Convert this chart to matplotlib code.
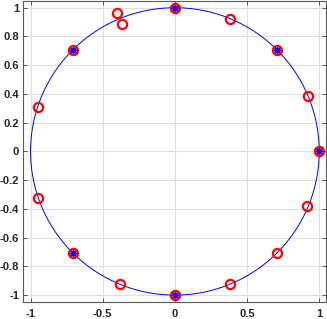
import numpy as np
import matplotlib
matplotlib.use("Agg")
import matplotlib.pyplot as plt

plt.rcParams["font.family"] = ["Liberation Sans", "DejaVu Sans"]
plt.rcParams["axes.unicode_minus"] = False

# red circles
red_x = [1.0, 0.92, 0.707, 0.383, 0.0, -0.404, -0.365, -0.707, -0.948,
         -0.946, -0.707, -0.38, 0.0, 0.383, 0.707, 0.918]
red_y = [0.0, 0.383, 0.707, 0.924, 1.0, 0.962, 0.884, 0.707, 0.311,
         -0.322, -0.707, -0.922, -1.0, -0.922, -0.707, -0.381]

# blue asterisks
star_x = [1.0, 0.707, 0.0, -0.707, -0.707, 0.0]
star_y = [0.0, 0.707, 1.0, 0.707, -0.707, -1.0]

xticks = [-1, -0.5, 0, 0.5, 1]
yticks = [-1, -0.8, -0.6, -0.4, -0.2, 0, 0.2, 0.4, 0.6, 0.8, 1]

# unit circle
t = np.linspace(0, 2 * np.pi, 400)

fig = plt.figure(figsize=(3.27, 3.19), dpi=100)
ax = fig.add_axes([0.0713, 0.0524, 0.927, 0.946])

ax.plot(np.cos(t), np.sin(t), color="#0000ff", lw=0.7, zorder=2)
ax.plot(star_x, star_y, ls="none", marker=(8, 2, 0), ms=5.5, mec="#0000ff",
        mew=1.0, zorder=3)
ax.plot(red_x, red_y, ls="none", marker="o", ms=6.6, mfc="none", mec="#ff0000",
        mew=1.6, zorder=4)

ax.set_xlim(-1.05, 1.05)
ax.set_ylim(-1.05, 1.05)
ax.set_xticks(xticks)
ax.set_xticklabels(["-1", "-0.5", "0", "0.5", "1"])
ax.set_yticks(yticks)
ax.set_yticklabels(["-1", "-0.8", "-0.6", "-0.4", "-0.2", "0", "0.2", "0.4",
                    "0.6", "0.8", "1"])

ax.grid(True, color="#e0e0e0", lw=0.8)
ax.set_axisbelow(True)
ax.tick_params(direction="in", length=3, width=0.6, color="0.25",
               top=True, right=True, labelsize=8, labelcolor="0.15")
ax.tick_params(axis="x", pad=5)
ax.tick_params(axis="y", pad=3)
for lab in ax.get_xticklabels() + ax.get_yticklabels():
    lab.set_fontweight("bold")
for s in ax.spines.values():
    s.set_color("0.35")
    s.set_linewidth(0.8)

fig.savefig("out.png", dpi=100)
